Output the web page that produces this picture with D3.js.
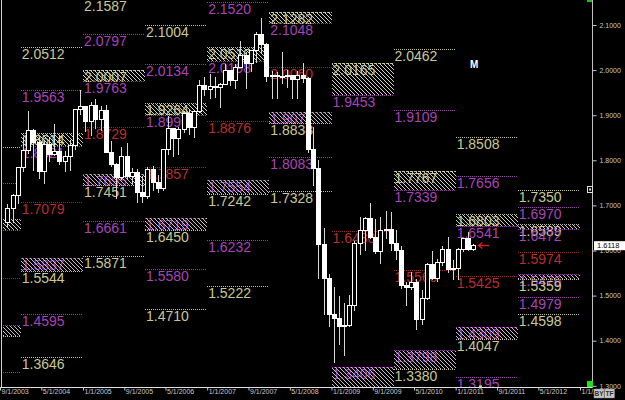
<!DOCTYPE html>
<html>
<head>
<meta charset="utf-8">
<script src="https://cdn.jsdelivr.net/npm/d3@7"></script>
<style>
  html, body { margin: 0; padding: 0; background: #000; }
  svg { display: block; }
  .lvl-label { font-family: "Liberation Sans", Arial, sans-serif; font-size: 14px; }
  .axis text { font-family: "Liberation Sans", Arial, sans-serif; font-size: 7px; fill: #c8c8c8; }
  .axis line { stroke: #c8c8c8; }
</style>
</head>
<body>
<svg id="chart"></svg>
<script>
// yearly pivot levels (one column per calendar year)
const years      = [2003, 2004, 2005, 2006, 2007, 2008, 2009, 2010, 2011, 2012];
const pivot      = [1.5397, 1.7079, 1.8729, 1.7857, 1.8876, 2.0060, 1.6430, 1.5560, 1.5425, 1.5974];
const yelOuterHi = [1.8295, 2.0512, 2.1587, 2.1004, null,   null,   null,   2.0462, 1.8508, 1.7350];
const yelInnerHi = [1.6692, 1.8614, 2.0007, 1.9264, 2.0510, 2.1282, 2.0165, 1.7767, 1.6803, 1.6589];
const magOuterHi = [1.7497, 1.9563, 2.0797, 2.0134, 2.1520, null,   null,   1.9109, 1.7656, 1.6970];
const magInnerHi = [1.6447, 1.8321, 1.9763, 1.8996, 2.0198, 2.1048, 1.9453, 1.7339, 1.6541, 1.6472];
const magInnerLo = [1.4347, 1.5837, 1.7695, 1.6719, 1.7554, 1.9071, 1.3406, 1.3798, 1.4309, 1.5476];
const magOuterLo = [1.3297, 1.4595, 1.6661, 1.5580, 1.6232, 1.8083, null,   null,   1.3195, 1.4979];
const yelInnerLo = [1.4102, 1.5544, 1.7451, 1.6450, 1.7242, 1.8838, 1.2693, 1.3380, 1.4047, 1.5359];
const yelOuterLo = [null,   1.3646, 1.5871, 1.4710, 1.5222, 1.7328, null,   null,   null,   1.4598];

// monthly candles, Oct 2003 .. Apr 2011
const firstMonth = [2003, 9];
const opens = [
  1.6620, 1.6935, 1.7220,
  1.7850, 1.8210, 1.8660, 1.8400, 1.7745, 1.8355, 1.8130, 1.8195, 1.7970, 1.8085, 1.8330, 1.9120,
  1.9190, 1.8850, 1.9225, 1.8895, 1.9095, 1.8180, 1.7915, 1.7615, 1.8075, 1.7640, 1.7720, 1.7290,
  1.7200, 1.7800, 1.7500, 1.7380, 1.8240, 1.8700, 1.8490, 1.8690, 1.9040, 1.8720, 1.9080, 1.9660,
  1.9580, 1.9630, 1.9620, 1.9680, 1.9990, 1.9780, 2.0060, 2.0320, 2.0140, 2.0430, 2.0800, 2.0560,
  1.9850, 1.9890, 1.9860, 1.9850, 1.9880, 1.9790, 1.9890, 1.9820, 1.8240, 1.7810, 1.6130, 1.5380,
  1.4590, 1.4490, 1.4310, 1.4330, 1.4790, 1.6160, 1.6450, 1.6710, 1.6280, 1.5980, 1.6450, 1.6470,
  1.6150, 1.6000, 1.5230, 1.5190, 1.5300, 1.4470, 1.4940, 1.5690, 1.5380, 1.5730, 1.6020, 1.5580,
  1.5610, 1.6020, 1.6260, 1.6030];
const highs = [
  1.7040, 1.7250, 1.7860,
  1.8520, 1.9100, 1.8700, 1.8510, 1.8455, 1.8520, 1.8800, 1.8560, 1.8200, 1.8440, 1.9140, 1.9550,
  1.9210, 1.9285, 1.9370, 1.9205, 1.9220, 1.8420, 1.7935, 1.8285, 1.8390, 1.7840, 1.7805, 1.7650,
  1.7860, 1.7880, 1.7675, 1.8260, 1.8990, 1.8700, 1.8740, 1.9095, 1.9140, 1.9110, 1.9790, 1.9845,
  1.9915, 1.9850, 1.9715, 2.0130, 2.0010, 2.0130, 2.0655, 2.0400, 2.0450, 2.0840, 2.1160, 2.0590,
  1.9985, 1.9950, 2.0395, 2.0000, 1.9890, 1.9970, 2.0160, 1.9850, 1.8730, 1.8000, 1.6505, 1.5490,
  1.5200, 1.4985, 1.4830, 1.5010, 1.6200, 1.6745, 1.6740, 1.7045, 1.6700, 1.6745, 1.6880, 1.6850,
  1.6460, 1.6100, 1.5300, 1.5530, 1.5360, 1.5120, 1.5720, 1.5990, 1.5820, 1.6110, 1.6300, 1.5800,
  1.6060, 1.6280, 1.6400, 1.6150];
const lows = [
  1.6530, 1.6605, 1.7040,
  1.7730, 1.8140, 1.7755, 1.7585, 1.7480, 1.7955, 1.8090, 1.7905, 1.7750, 1.7760, 1.8225, 1.9015,
  1.8635, 1.8540, 1.8690, 1.8650, 1.8160, 1.7855, 1.7150, 1.7560, 1.7575, 1.7470, 1.7050, 1.7050,
  1.7145, 1.7310, 1.7280, 1.7320, 1.8115, 1.8070, 1.8120, 1.8610, 1.8570, 1.8500, 1.9055, 1.9435,
  1.9350, 1.9380, 1.9170, 1.9670, 1.9645, 1.9570, 2.0040, 1.9580, 1.9950, 2.0160, 2.0350, 1.9730,
  1.9360, 1.9360, 1.9700, 1.9600, 1.9360, 1.9360, 1.9720, 1.8170, 1.7440, 1.5365, 1.4580, 1.4310,
  1.3505, 1.3900, 1.3650, 1.4310, 1.4660, 1.5900, 1.5990, 1.6260, 1.5920, 1.5710, 1.6250, 1.5990,
  1.5800, 1.5150, 1.4780, 1.5130, 1.4230, 1.4350, 1.4900, 1.5340, 1.5300, 1.5650, 1.5500, 1.5340,
  1.5340, 1.5960, 1.5980, 1.6000];
const closes = [
  1.6935, 1.7220, 1.7850,
  1.8210, 1.8660, 1.8400, 1.7745, 1.8355, 1.8130, 1.8195, 1.7970, 1.8085, 1.8330, 1.9120, 1.9190,
  1.8850, 1.9225, 1.8895, 1.9095, 1.8180, 1.7915, 1.7615, 1.8075, 1.7640, 1.7720, 1.7290, 1.7200,
  1.7800, 1.7500, 1.7380, 1.8240, 1.8700, 1.8490, 1.8690, 1.9040, 1.8720, 1.9080, 1.9660, 1.9580,
  1.9630, 1.9620, 1.9680, 1.9990, 1.9780, 2.0060, 2.0320, 2.0140, 2.0430, 2.0800, 2.0560, 1.9850,
  1.9890, 1.9860, 1.9850, 1.9880, 1.9790, 1.9890, 1.9820, 1.8240, 1.7810, 1.6130, 1.5380, 1.4590,
  1.4490, 1.4310, 1.4330, 1.4790, 1.6160, 1.6450, 1.6710, 1.6280, 1.5980, 1.6450, 1.6470, 1.6150,
  1.6000, 1.5230, 1.5190, 1.5300, 1.4470, 1.4940, 1.5690, 1.5380, 1.5730, 1.6020, 1.5580, 1.5610,
  1.6020, 1.6260, 1.6030, 1.6118];
const lastPrice = 1.6118;

// axes
const yTicks = [1.3, 1.4, 1.5, 1.6, 1.7, 1.8, 1.9, 2.0, 2.1];
const xTickDates = ["2003-09-01", "2004-05-01", "2005-01-01", "2005-09-01", "2006-05-01", "2007-01-01",
  "2007-09-01", "2008-05-01", "2009-01-01", "2009-09-01", "2010-05-01", "2011-01-01",
  "2011-09-01", "2012-05-01", "2013-01-01"];

const colors = {
  yelLine: "#c0c088", yelText: "#c8c894",
  magLine: "#9c3cac", magText: "#a844b8",
  redLine: "#a02626", redText: "#b82e2e"
};

const width = 625, height = 400;
const plotLeft = 2, plotRight = 592.5, plotBottom = 387.5;

const svg = d3.select("#chart").attr("width", width).attr("height", height);
svg.append("rect").attr("width", width).attr("height", height).attr("fill", "#000");

const xScale = d3.scaleUtc()
  .domain([new Date(Date.UTC(2003, 8, 1)), new Date(Date.UTC(2013, 0, 1))])
  .range([0, 580]);
const yScale = d3.scaleLinear().domain([1.3, 2.1]).range([385.8, 25]);

const defs = svg.append("defs");
defs.append("clipPath").attr("id", "plotClip")
  .append("rect").attr("x", plotLeft + 1).attr("y", 0)
  .attr("width", plotRight - plotLeft - 1).attr("height", plotBottom);

function hatch(id, color) {
  defs.append("pattern").attr("id", id)
    .attr("patternUnits", "userSpaceOnUse").attr("width", 4).attr("height", 4)
    .append("path").attr("d", "M-1,-1 L5,5 M-1,3 L1,5 M3,-1 L5,1")
    .attr("stroke", color).attr("stroke-width", 1);
}
hatch("hatchY", "#d2d2b2");
hatch("hatchM", "#cbbccb");

const colStart = yr => xScale(new Date(Date.UTC(yr, 0, 1)));
const colEnd = yr => xScale(new Date(Date.UTC(yr + 1, 0, 1)));
const snap = v => Math.round(v) + 0.5;

// flatten the level arrays
let levels = [];
years.forEach((yr, i) => {
  const add = (v, kind) => { if (v !== null) levels.push({ year: yr, value: v, kind: kind }); };
  add(yelOuterHi[i], "yel"); add(yelInnerHi[i], "yel");
  add(magOuterHi[i], "mag"); add(magInnerHi[i], "mag");
  add(pivot[i], "red");
  add(magInnerLo[i], "mag"); add(magOuterLo[i], "mag");
  add(yelInnerLo[i], "yel"); add(yelOuterLo[i], "yel");
});

let boxes = [];
years.forEach((yr, i) => {
  boxes.push({ year: yr, top: yelInnerHi[i], bottom: magInnerHi[i], fill: "url(#hatchY)" });
  boxes.push({ year: yr, top: magInnerLo[i], bottom: yelInnerLo[i], fill: "url(#hatchM)" });
});

const plot = svg.append("g").attr("clip-path", "url(#plotClip)");

// labels first, hatch is painted over them like in the source chart
// (the 2003 column starts off-screen, so its labels are not shown)
plot.append("g").selectAll("text")
  .data(levels.filter(d => colStart(d.year) >= 0))
  .enter()
  .append("text")
    .classed("lvl-label", true)
    .attr("x", d => colStart(d.year) + 1)
    .attr("y", d => yScale(d.value) + 12)
    .attr("fill", d => colors[d.kind + "Text"])
    .text(d => d.value.toFixed(4));

plot.append("g").selectAll("rect")
  .data(boxes)
  .enter()
  .append("rect")
    .attr("x", d => Math.round(colStart(d.year)))
    .attr("y", d => Math.round(yScale(d.top)))
    .attr("width", d => Math.round(colEnd(d.year)) - Math.round(colStart(d.year)))
    .attr("height", d => Math.round(yScale(d.bottom)) - Math.round(yScale(d.top)))
    .attr("fill", d => d.fill);

plot.append("g").selectAll("line")
  .data(levels)
  .enter()
  .append("line")
    .attr("x1", d => Math.round(colStart(d.year)))
    .attr("x2", d => Math.round(colEnd(d.year)))
    .attr("y1", d => snap(yScale(d.value)))
    .attr("y2", d => snap(yScale(d.value)))
    .attr("stroke", d => colors[d.kind + "Line"])
    .attr("stroke-dasharray", "1,1");

// candles
let candles = opens.map((o, i) => ({
  date: new Date(Date.UTC(firstMonth[0], firstMonth[1] + i, 15)),
  open: o, high: highs[i], low: lows[i], close: closes[i]
}));

const cg = plot.append("g").attr("shape-rendering", "crispEdges");
cg.selectAll("line")
  .data(candles)
  .enter()
  .append("line")
    .attr("x1", d => snap(xScale(d.date)))
    .attr("x2", d => snap(xScale(d.date)))
    .attr("y1", d => yScale(d.high))
    .attr("y2", d => yScale(d.low))
    .attr("stroke", "#d8d8d8");

cg.selectAll("rect")
  .data(candles)
  .enter()
  .append("rect")
    .attr("x", d => Math.round(xScale(d.date)) - 1.5)
    .attr("width", 4)
    .attr("y", d => yScale(Math.max(d.open, d.close)))
    .attr("height", d => Math.max(1, Math.abs(yScale(d.open) - yScale(d.close))))
    .attr("fill", d => d.close >= d.open ? "#000" : "#fff")
    .attr("stroke", "#fff");

// arrow at the last candle
const last = candles[candles.length - 1];
const ax = xScale(last.date) + 5, ay = snap(yScale(lastPrice));
svg.append("path")
  .attr("d", `M${ax + 11},${ay} L${ax},${ay} M${ax + 4},${ay - 3} L${ax},${ay} L${ax + 4},${ay + 3}`)
  .attr("stroke", "#d02020").attr("stroke-width", 1.3).attr("fill", "none");

svg.append("text")
  .attr("x", 470).attr("y", 68)
  .attr("font-family", "Liberation Sans, Arial, sans-serif")
  .attr("font-size", 10).attr("font-weight", "bold")
  .attr("fill", "#fff").text("M");

// borders
svg.append("line").attr("x1", 1.5).attr("x2", 1.5).attr("y1", 0).attr("y2", plotBottom)
  .attr("stroke", "#d0d0d0");
svg.append("line").attr("x1", plotRight).attr("x2", plotRight).attr("y1", 0).attr("y2", plotBottom)
  .attr("stroke", "#c0c0c0");
svg.append("line").attr("x1", 0).attr("x2", plotRight).attr("y1", plotBottom).attr("y2", plotBottom)
  .attr("stroke", "#e0e0e0");

// right price axis
const yAxis = svg.append("g")
  .classed("axis", true)
  .attr("transform", `translate(${plotRight},0)`)
  .call(d3.axisRight(yScale).tickValues(yTicks).tickSize(4).tickFormat(d3.format(".4f")));
yAxis.select(".domain").remove();

// bottom date axis
const parseDay = d3.utcParse("%Y-%m-%d");
const xAxis = svg.append("g")
  .classed("axis", true)
  .attr("transform", `translate(0,${plotBottom})`)
  .call(d3.axisBottom(xScale).tickValues(xTickDates.map(parseDay)).tickSize(3)
    .tickFormat(d3.utcFormat("%-m/%-d/%Y")));
xAxis.select(".domain").remove();
xAxis.selectAll("text").attr("text-anchor", "start").attr("x", 1).attr("y", 2);

// last price flag
const py = yScale(lastPrice);
svg.append("rect").attr("x", 594).attr("y", py - 4).attr("width", 31).attr("height", 9)
  .attr("fill", "#fff");
svg.append("text").attr("x", 597).attr("y", py + 3)
  .attr("font-family", "Liberation Sans, Arial, sans-serif").attr("font-size", 7.5)
  .attr("fill", "#000").text(lastPrice.toFixed(4));

// little widgets of the terminal
svg.append("rect").attr("x", 587.5).attr("y", 186.5).attr("width", 5).attr("height", 6)
  .attr("fill", "#000").attr("stroke", "#e0e0e0");
svg.append("rect").attr("x", 589).attr("y", 188.5).attr("width", 2).attr("height", 2).attr("fill", "#e0e0e0");
svg.append("rect").attr("x", 587).attr("y", 381).attr("width", 6).attr("height", 6).attr("fill", "#19e619");
svg.append("rect").attr("x", 587).attr("y", 0).attr("width", 5).attr("height", 2).attr("fill", "#19c019");
svg.append("rect").attr("x", 479).attr("y", 385.5).attr("width", 3).attr("height", 3).attr("fill", "#c8e0a0");

[["BY", 594], ["TF", 604.5]].forEach(b => {
  svg.append("rect").attr("x", b[1]).attr("y", 389).attr("width", 10).attr("height", 9)
    .attr("fill", "#c8c8c8").attr("stroke", "#808080").attr("stroke-width", 0.5);
  svg.append("text").attr("x", b[1] + 5).attr("y", 396)
    .attr("text-anchor", "middle")
    .attr("font-family", "Liberation Sans, Arial, sans-serif").attr("font-size", 6.5)
    .attr("font-weight", "bold").attr("fill", "#303030").text(b[0]);
});
</script>
</body>
</html>
